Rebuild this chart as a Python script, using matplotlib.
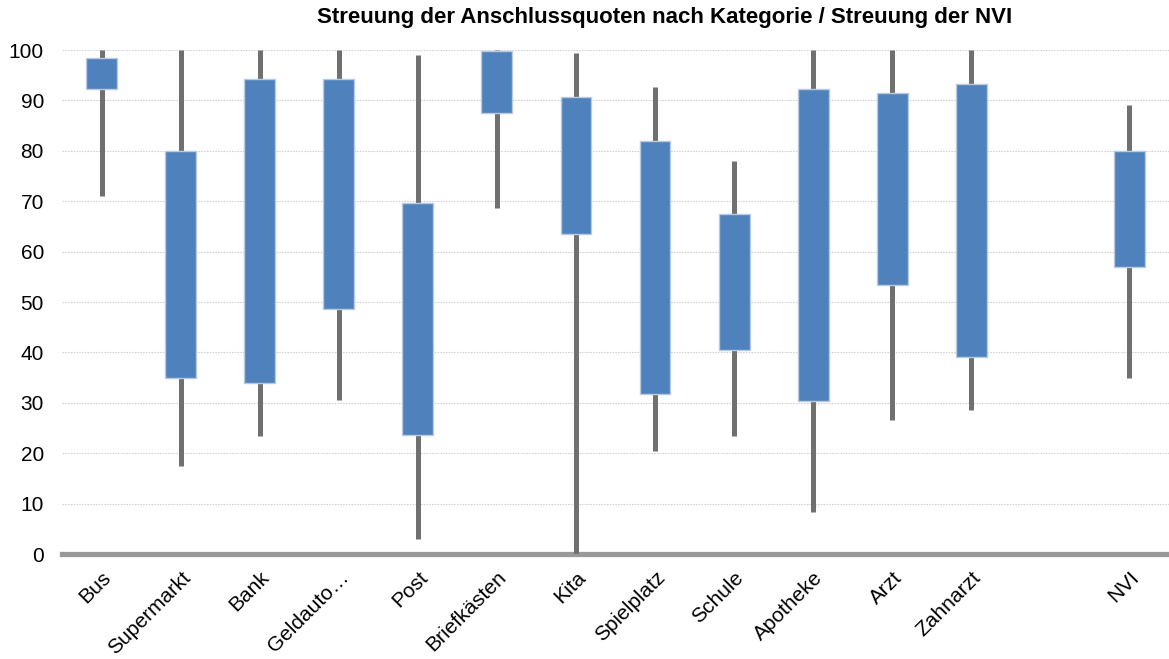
import matplotlib
matplotlib.use("Agg")
import matplotlib.pyplot as plt
from matplotlib.patches import Rectangle

plt.rcParams["font.family"] = ["Liberation Sans", "DejaVu Sans"]

# =========================
# Data
# =========================
categories = ["Bus", "Supermarkt", "Bank", "Geldauto…", "Post", "Briefkästen",
              "Kita", "Spielplatz", "Schule", "Apotheke", "Arzt", "Zahnarzt",
              "", "NVI"]
whisker_low = [71, 17.5, 23.5, 30.5, 3, 68.7, 0, 20.5, 23.5, 8.3, 26.5, 28.5, None, 35]
whisker_high = [100, 100, 100, 100, 99, 100, 99.5, 92.7, 78, 100, 100, 100, None, 89]
box_low = [92.3, 35, 34, 48.7, 23.7, 87.5, 63.5, 31.7, 40.5, 30.3, 53.3, 39, None, 57]
box_high = [98.5, 80, 94.3, 94.3, 69.6, 99.8, 90.6, 82, 67.4, 92.3, 91.4, 93.3, None, 80]

title = "Streuung der Anschlussquoten nach Kategorie / Streuung der NVI"

# =========================
# Plot
# =========================
fig = plt.figure(figsize=(11.69, 6.59), dpi=100)
ax = fig.add_axes([62 / 1169, (659 - 554) / 659, 1 - 62 / 1169, (554 - 50) / 659])

box_w = 0.39
for i, cat in enumerate(categories):
    if whisker_low[i] is None:
        continue
    ax.plot([i, i], [whisker_low[i], whisker_high[i]], color="#707070",
            linewidth=3.6, solid_capstyle="butt", zorder=2)
    ax.add_patch(Rectangle((i - box_w / 2, box_low[i]), box_w,
                           box_high[i] - box_low[i], facecolor="#4F81BD",
                           edgecolor="#B9C9E0", linewidth=1.0, zorder=3))

ax.set_xlim(-0.5, 13.5)
ax.set_ylim(0, 100)
ax.set_yticks(range(0, 101, 10))
ax.set_xticks(range(len(categories)))
ax.set_xticklabels(categories, rotation=45, ha="right", rotation_mode="anchor")
ax.tick_params(axis="both", length=0, labelsize=15)
ax.tick_params(axis="x", pad=10)
ax.tick_params(axis="y", pad=13)

for spine in ["top", "right", "left"]:
    ax.spines[spine].set_visible(False)
ax.spines["bottom"].set_color("#999999")
ax.spines["bottom"].set_linewidth(3.8)
ax.spines["bottom"].set_zorder(1)

ax.yaxis.grid(True, color="#D4D4D4", linestyle=(0, (1.5, 1)), linewidth=0.8)
ax.set_axisbelow(True)

fig.text(665 / 1169, 1 - 18 / 659, title, ha="center", va="center",
         fontsize=16, fontweight="bold")

fig.savefig("out.png", dpi=100)
